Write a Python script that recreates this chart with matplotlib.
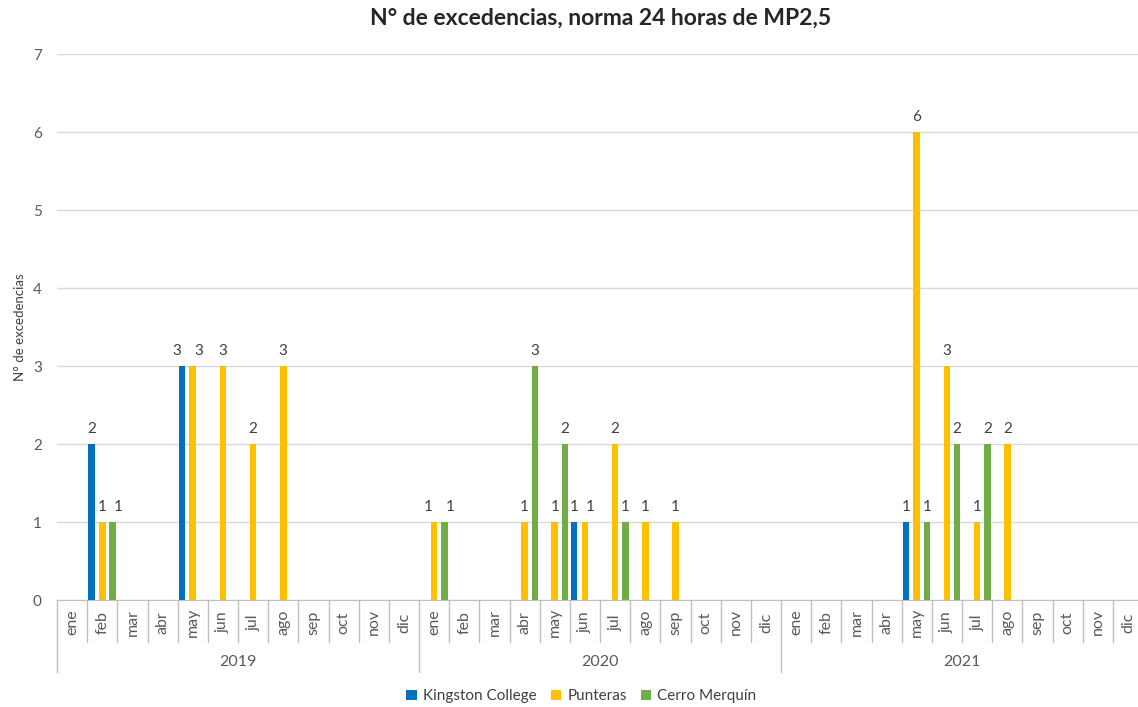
import numpy as np
import matplotlib.pyplot as plt
from matplotlib.lines import Line2D
from matplotlib.patches import Patch
import matplotlib.transforms as mtransforms

plt.rcParams['font.family'] = ['Lato', 'DejaVu Sans']

# --- data ---
years = ['2019', '2020', '2021']
months = ['ene', 'feb', 'mar', 'abr', 'may', 'jun', 'jul', 'ago', 'sep', 'oct', 'nov', 'dic']
series_names = ['Kingston College', 'Punteras', 'Cerro Merquín']

kingston = [0, 2, 0, 0, 3, 0, 0, 0, 0, 0, 0, 0,
            0, 0, 0, 0, 0, 1, 0, 0, 0, 0, 0, 0,
            0, 0, 0, 0, 1, 0, 0, 0, 0, 0, 0, 0]
punteras = [0, 1, 0, 0, 3, 3, 2, 3, 0, 0, 0, 0,
            1, 0, 0, 1, 1, 1, 2, 1, 1, 0, 0, 0,
            0, 0, 0, 0, 6, 3, 1, 2, 0, 0, 0, 0]
cerro = [0, 1, 0, 0, 0, 0, 0, 0, 0, 0, 0, 0,
         1, 0, 0, 3, 2, 0, 1, 0, 0, 0, 0, 0,
         0, 0, 0, 0, 1, 2, 2, 0, 0, 0, 0, 0]

colors = ['#0070C0', '#FFC000', '#70AD47']

# --- figure ---
fig = plt.figure(figsize=(11.38, 7.07), dpi=100)
ax = fig.add_axes([0.0501, 0.1513, 0.9543, 0.7723])

n = len(years) * len(months)
x = np.arange(n)
offsets = [-0.36, 0.0, 0.34]
width = 0.22
series = [np.array(kingston), np.array(punteras), np.array(cerro)]

for j, (vals, off, col) in enumerate(zip(series, offsets, colors)):
    ax.bar(x + off, vals, width=width, color=col, zorder=3)

# labels in left-to-right bar order; nudge apart when neighbours share a height
flat_vals = np.stack(series, axis=1).ravel()
flat_x = (x[:, None] + np.array(offsets)[None, :]).ravel()
for k, (bx, v) in enumerate(zip(flat_x, flat_vals)):
    if v <= 0:
        continue
    left = flat_vals[k - 1] if k > 0 else 0
    right = flat_vals[k + 1] if k + 1 < len(flat_vals) else 0
    dx = 0
    if left == v:
        dx += 4
    elif right == v and left < v:
        dx -= 4
    ax.annotate(str(v), (bx, v), xytext=(dx, 6), textcoords='offset points',
                ha='center', va='bottom', fontsize=11, color='#404040')

ax.set_xlim(-0.5, n - 0.5)
ax.set_ylim(0, 7)
ax.set_yticks(range(0, 8))
ax.tick_params(axis='y', length=0, labelsize=11, labelcolor='#595959', pad=11)
ax.set_xticks([])
ax.grid(axis='y', color='#D9D9D9', linewidth=1, zorder=0)
for s in ['top', 'right', 'left']:
    ax.spines[s].set_visible(False)
ax.spines['bottom'].set_color('#BFBFBF')

# multi-level category axis
trans = mtransforms.blended_transform_factory(ax.transData, ax.transAxes)
for i in range(n):
    ax.text(i, -0.041, months[i % 12], transform=trans, rotation=90,
            ha='center', va='center', fontsize=11.5, color='#595959')
for i in range(n + 1):
    y_end = -0.132 if i % 12 == 0 else -0.077
    ax.add_line(Line2D([i - 0.5, i - 0.5], [0, y_end], transform=trans,
                       color='#BFBFBF', linewidth=1, clip_on=False))
for k, yr in enumerate(years):
    ax.text(k * 12 + 5.5, -0.113, yr, transform=trans, ha='center', va='center',
            fontsize=11.5, color='#595959')

ax.set_ylabel('N° de excedencias', fontsize=9.5, color='#404040')
ax.yaxis.set_label_coords(-0.029, 0.5)

fig.text(0.528, 0.9745, 'N° de excedencias, norma 24 horas de MP2,5', ha='center', va='center',
         fontsize=16.5, fontweight='bold', color='#262626')

handles = [Patch(facecolor=c, edgecolor='none') for c in colors]
fig.legend(handles, series_names, loc='center', bbox_to_anchor=(0.511, 0.015), ncol=3,
           frameon=False, fontsize=11, handlelength=0.7, handleheight=0.7,
           handletextpad=0.4, columnspacing=0.9, labelcolor='#404040')

fig.savefig('out.png', dpi=100)
